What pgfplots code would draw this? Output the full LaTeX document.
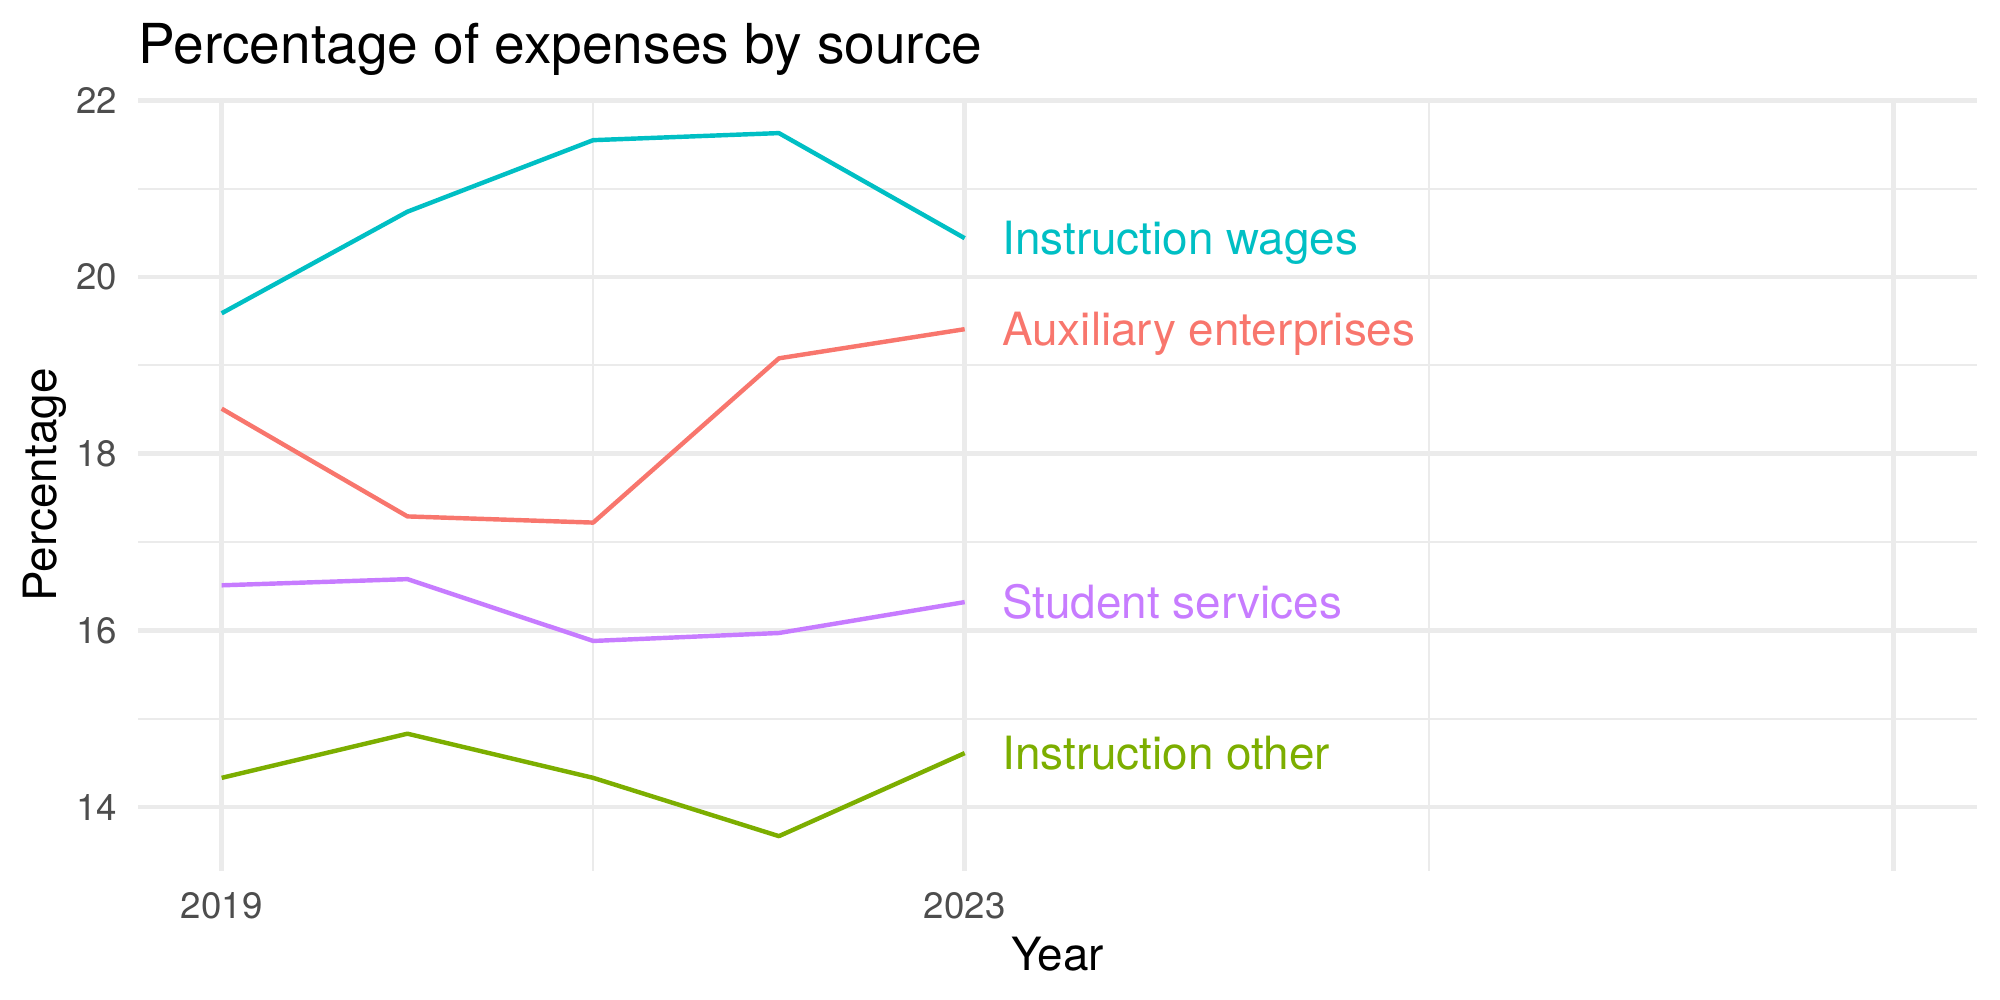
\documentclass[border=0pt]{standalone}
\usepackage{pgfplots}
\pgfplotsset{compat=1.18}
\usepackage{fontspec}
\setmainfont{TeX Gyre Heros}
\definecolor{cAux}{HTML}{F8766D}
\definecolor{cOth}{HTML}{7CAE00}
\definecolor{cWag}{HTML}{00BFC4}
\definecolor{cStu}{HTML}{C77CFF}
\definecolor{gridc}{HTML}{EBEBEB}
\definecolor{tickc}{HTML}{4D4D4D}
\tikzset{lbl/.style={anchor=base west, inner sep=0pt, yshift=-5.95pt, font=\fontsize{16.56}{16.56}\selectfont}}
\begin{document}
\begin{tikzpicture}
\begin{axis}[
  scale only axis,
  width=664.5pt, height=279.1pt,
  xmin=2018.55, xmax=2028.45,
  ymin=13.275, ymax=22.02,
  xtick={2019,2023,2028},
  xticklabels={2019,2023,{}},
  minor xtick={2021,2025.5},
  ytick={14,16,18,20,22},
  minor ytick={15,17,19,21},
  grid=both,
  major grid style={draw=gridc, line width=1.6pt},
  minor grid style={draw=gridc, line width=0.8pt},
  axis line style={draw=none},
  major tick length=0pt, minor tick length=0pt,
  tick style={draw=none},
  /pgf/number format/assume math mode=true,
  ticklabel style={font=\fontsize{13.25}{13.25}\selectfont, text=tickc, inner sep=0pt},
  xticklabel style={anchor=base, yshift=-17pt},
  yticklabel style={anchor=east, xshift=-7.5pt},
  clip=false,
]
\addplot[cAux, line width=1.6pt, line join=round] coordinates {(2019,18.51) (2020,17.29) (2021,17.22) (2022,19.08) (2023,19.41)};
\addplot[cOth, line width=1.6pt, line join=round] coordinates {(2019,14.33) (2020,14.83) (2021,14.33) (2022,13.67) (2023,14.61)};
\addplot[cWag, line width=1.6pt, line join=round] coordinates {(2019,19.59) (2020,20.74) (2021,21.55) (2022,21.63) (2023,20.44)};
\addplot[cStu, line width=1.6pt, line join=round] coordinates {(2019,16.51) (2020,16.58) (2021,15.88) (2022,15.97) (2023,16.32)};
\node[lbl, text=cWag] at (axis cs:2023.2,20.44) {Instruction wages};
\node[lbl, text=cAux] at (axis cs:2023.2,19.41) {Auxiliary enterprises};
\node[lbl, text=cStu] at (axis cs:2023.2,16.32) {Student services};
\node[lbl, text=cOth] at (axis cs:2023.2,14.61) {Instruction other};
\coordinate (ll) at (rel axis cs:0,0);
\coordinate (ul) at (rel axis cs:0,1);
\coordinate (ml) at (rel axis cs:0,0.5);
\coordinate (bm) at (rel axis cs:0.5,0);
\end{axis}
\node[anchor=base west, inner sep=0pt, font=\fontsize{19.9}{19.9}\selectfont] at ([yshift=12.6pt]ul) {Percentage of expenses by source};
\node[anchor=base, inner sep=0pt, font=\fontsize{16.56}{16.56}\selectfont] at ([yshift=-35.8pt]bm) {Year};
\node[rotate=90, anchor=base, inner sep=0pt, font=\fontsize{16.56}{16.56}\selectfont] at ([xshift=-29.6pt]ml) {Percentage};
\pgfresetboundingbox
\path[use as bounding box] ([shift={(-49.9pt,-46.6pt)}]ll) rectangle ([shift={(672.8pt,314.75pt)}]ll);
\end{tikzpicture}
\end{document}
